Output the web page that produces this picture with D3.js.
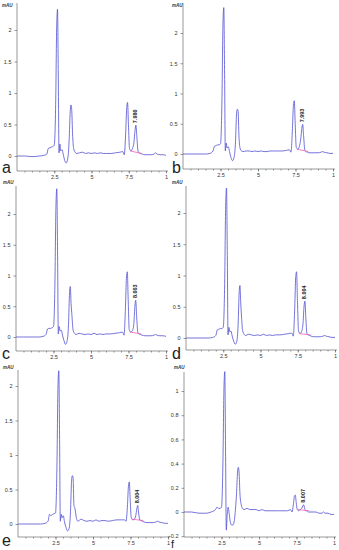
<!DOCTYPE html>
<html>
<head>
<meta charset="utf-8">
<script src="https://cdnjs.cloudflare.com/ajax/libs/d3/7.8.5/d3.min.js"></script>
<style>
  body { margin: 0; background: #fff; }
  svg { display: block; font-family: "Liberation Sans", Arial, sans-serif; }
  .axis path, .axis line { stroke: #555; stroke-width: 0.6; }
  .axis text { font-size: 5.5px; fill: #333; }
</style>
</head>
<body>
<div id="chart"></div>
<script>
// retention time (min), shared by all six runs
const times = [0,0.5,1,1.5,1.8,2.0,2.1,2.2,2.3,2.4,
  2.5,2.6,2.66,2.72,2.77,2.82,2.88,2.94,3.02,3.1,
  3.2,3.3,3.4,3.5,3.57,3.62,3.67,3.73,3.8,3.9,
  4.0,4.2,4.4,4.6,4.8,5.0,5.2,5.4,5.6,5.8,
  6.0,6.3,6.6,6.9,7.1,7.2,7.3,7.36,7.42,7.48,
  7.55,7.65,7.75,7.85,7.92,7.98,8.04,8.12,8.2,8.3,
  8.4,8.6,8.8,9.0,9.2,9.3,9.4,9.6,9.8,10];

// absorbance (mAU) per run
const runA = [0.00,0.00,-0.01,0.00,0.01,0.03,0.12,0.13,0.14,0.15,
  0.17,0.90,2.00,2.33,1.30,0.05,0.19,0.08,0.10,0.03,
  -0.07,-0.11,-0.05,0.25,0.70,0.81,0.74,0.35,0.12,0.06,
  0.04,0.05,0.06,0.04,0.05,0.04,0.05,0.04,0.05,0.04,
  0.04,0.04,0.05,0.06,0.07,0.02,0.40,0.75,0.85,0.50,
  0.12,0.08,0.12,0.22,0.40,0.49,0.32,0.08,0.05,0.04,
  0.03,0.02,0.02,0.02,0.03,0.05,0.03,0.02,0.02,0.01];
const runB = [0.00,0.00,0.00,0.00,0.01,0.05,0.13,0.14,0.15,0.15,
  0.17,0.95,2.10,2.42,1.40,0.05,0.18,0.10,0.12,0.04,
  -0.06,-0.11,-0.06,0.20,0.66,0.74,0.72,0.30,0.10,0.05,
  0.04,0.05,0.05,0.04,0.05,0.04,0.05,0.04,0.04,0.05,
  0.05,0.05,0.05,0.06,0.07,0.03,0.45,0.80,0.88,0.50,
  0.11,0.08,0.12,0.25,0.42,0.49,0.30,0.07,0.04,0.03,
  0.02,0.02,0.02,0.02,0.03,0.04,0.03,0.02,0.01,0.01];
const runC = [0.00,0.00,0.00,0.00,0.01,0.04,0.13,0.14,0.14,0.15,
  0.17,0.95,2.10,2.41,1.40,0.05,0.17,0.10,0.11,0.03,
  -0.06,-0.12,-0.07,0.20,0.72,0.82,0.55,0.35,0.12,0.06,
  0.04,0.06,0.05,0.04,0.05,0.04,0.06,0.04,0.05,0.04,
  0.05,0.05,0.06,0.07,0.08,0.03,0.50,0.95,1.06,0.60,
  0.12,0.08,0.10,0.20,0.48,0.60,0.35,0.08,0.05,0.04,
  0.03,0.02,0.02,0.02,0.03,0.04,0.03,0.02,0.02,0.01];
const runD = [0.00,0.00,0.00,0.00,0.01,0.04,0.13,0.14,0.15,0.15,
  0.17,0.95,2.10,2.40,1.40,0.05,0.17,0.10,0.11,0.03,
  -0.05,-0.10,-0.06,0.22,0.74,0.84,0.58,0.33,0.12,0.06,
  0.04,0.06,0.05,0.04,0.05,0.04,0.06,0.04,0.05,0.04,
  0.05,0.05,0.06,0.07,0.08,0.03,0.50,0.96,1.06,0.60,
  0.12,0.07,0.10,0.22,0.50,0.59,0.33,0.07,0.05,0.04,
  0.03,0.02,0.02,0.02,0.03,0.04,0.03,0.02,0.01,0.01];
const runE = [0.00,0.00,0.00,0.00,0.01,0.04,0.14,0.12,0.14,0.15,
  0.16,0.90,1.95,2.22,1.30,0.04,0.14,0.09,0.12,0.03,
  -0.05,-0.10,-0.07,0.18,0.62,0.70,0.68,0.27,0.22,0.08,
  0.04,0.07,0.05,0.04,0.05,0.04,0.06,0.04,0.05,0.05,
  0.04,0.05,0.06,0.06,0.06,0.04,0.28,0.54,0.61,0.35,
  0.09,0.06,0.07,0.12,0.22,0.27,0.16,0.06,0.05,0.04,
  0.03,0.02,0.02,0.02,0.03,0.04,0.03,0.02,0.01,0.01];
const runF = [0.00,0.00,-0.01,-0.01,0.00,0.01,0.02,0.04,0.03,0.03,
  0.04,0.45,1.00,1.16,0.50,-0.15,-0.02,0.04,-0.02,-0.09,
  -0.11,-0.10,-0.02,0.15,0.33,0.37,0.33,0.15,0.07,0.03,
  0.02,0.03,0.02,0.02,0.02,0.01,0.02,0.01,0.01,0.01,
  0.01,0.01,0.01,0.01,0.02,0.00,0.07,0.13,0.14,0.08,
  0.02,0.01,0.02,0.03,0.05,0.06,0.03,0.01,0.01,0.00,
  0.00,0.00,0.00,-0.01,-0.01,0.00,-0.01,-0.01,-0.02,-0.02];

const runs = [runA, runB, runC, runD, runE, runF];
const panelLetters = ["a", "b", "c", "d", "e", "f"];
const peakTimes = [7.98, 7.98, 7.98, 7.98, 7.98, 7.98];
const peakLabels = ["7.980", "7.993", "8.003", "8.004", "8.004", "8.007"];
// integration baseline under the labelled peak: [start time, start mAU, end time, end mAU]
const baselines = [[7.6,0.08,8.35,0.04],[7.6,0.08,8.35,0.04],[7.6,0.08,8.35,0.05],
                   [7.6,0.07,8.35,0.05],[7.6,0.07,8.35,0.05],[7.6,0.02,8.35,0.01]];

const xTicks = [2.5, 5, 7.5, 10];
const xTickLabels = ["2.5", "5", "7.5", "1"];
const yTicksMain = [0, 0.5, 1, 1.5, 2];
const yTicksLow = [-0.2, 0, 0.2, 0.4, 0.6, 0.8, 1];

// panel placement in the 339x550 figure
const layout = [
  {x0: 17,  x1: 166, y0: 156, yTop: 30,  vTop: 2, axTop: 3,   axBot: 171, lx: 2,   ly: 173, fs: 16, mx: 2,   my: 7},
  {x0: 183, x1: 333, y0: 154, yTop: 33,  vTop: 2, axTop: 3,   axBot: 169, lx: 172, ly: 173, fs: 16, mx: 172, my: 7},
  {x0: 16,  x1: 166, y0: 337, yTop: 214, vTop: 2, axTop: 186, axBot: 351, lx: 2,   ly: 359, fs: 16, mx: 3,   my: 184},
  {x0: 186, x1: 335, y0: 338, yTop: 213, vTop: 2, axTop: 186, axBot: 350, lx: 172, ly: 359, fs: 16, mx: 172, my: 184},
  {x0: 18,  x1: 168, y0: 524, yTop: 386, vTop: 2, axTop: 370, axBot: 537, lx: 2,   ly: 546, fs: 16, mx: 3,   my: 369},
  {x0: 184, x1: 334, y0: 512, yTop: 391, vTop: 1, axTop: 372, axBot: 537, lx: 171, ly: 548, fs: 11, mx: 174, my: 369}
];

const svg = d3.select("#chart").append("svg")
  .attr("width", 339)
  .attr("height", 550);

runs.forEach(function(vals, i) {
  const L = layout[i];
  const x = d3.scaleLinear().domain([0, 10]).range([L.x0, L.x1]);
  const y = d3.scaleLinear().domain([0, L.vTop]).range([L.y0, L.yTop]);
  const g = svg.append("g");

  // y axis line + ticks
  g.append("line")
    .attr("x1", L.x0).attr("x2", L.x0)
    .attr("y1", L.axTop).attr("y2", L.axBot)
    .attr("stroke", "#555").attr("stroke-width", 0.6);
  const yt = i == 5 ? yTicksLow : yTicksMain;
  g.append("g")
    .attr("class", "axis")
    .attr("transform", "translate(" + L.x0 + ",0)")
    .call(d3.axisLeft(y).tickValues(yt).tickSize(2.5).tickPadding(3)
      .tickFormat(d3.format("~g")))
    .select(".domain").remove();

  // x axis, major + minor ticks
  g.append("line")
    .attr("x1", L.x0).attr("x2", L.x1 + 2)
    .attr("y1", L.axBot).attr("y2", L.axBot)
    .attr("stroke", "#555").attr("stroke-width", 0.6);
  g.append("g")
    .attr("class", "axis")
    .attr("transform", "translate(0," + L.axBot + ")")
    .call(d3.axisBottom(x).tickValues(d3.range(0.5, 10.01, 0.5)).tickSize(1.5).tickFormat(""))
    .select(".domain").remove();
  g.append("g")
    .attr("class", "axis")
    .attr("transform", "translate(0," + L.axBot + ")")
    .call(d3.axisBottom(x).tickValues(xTicks).tickSize(2.5).tickPadding(1.5)
      .tickFormat((d, k) => xTickLabels[k]))
    .select(".domain").remove();

  // chromatogram trace
  const pts = times.map((t, k) => [t, vals[k]]);
  g.append("path")
    .datum(pts)
    .attr("fill", "none")
    .attr("stroke", "#5050d2")
    .attr("stroke-width", 0.8)
    .attr("stroke-linejoin", "round")
    .attr("d", d3.line()
      .x(d => x(d[0]))
      .y(d => y(d[1]))
      .curve(d3.curveMonotoneX));

  // integration baseline
  const b = baselines[i];
  g.append("line")
    .attr("x1", x(b[0])).attr("y1", y(b[1]))
    .attr("x2", x(b[2])).attr("y2", y(b[3]))
    .attr("stroke", "#f060b8")
    .attr("stroke-width", 0.8);

  // peak retention label
  const pk = times.indexOf(peakTimes[i]);
  const px = x(peakTimes[i]) + 1.5, py = y(vals[pk]) - 2;
  g.append("text")
    .attr("transform", "translate(" + px + "," + py + ") rotate(-90)")
    .attr("font-size", "5.5px")
    .attr("font-weight", "bold")
    .attr("fill", "#222")
    .text(peakLabels[i]);

  // unit label + panel letter
  g.append("text")
    .attr("x", L.mx).attr("y", L.my)
    .attr("font-size", "4.5px")
    .attr("font-style", "italic")
    .attr("font-weight", "bold")
    .attr("fill", "#333")
    .text("mAU");
  g.append("text")
    .attr("x", L.lx).attr("y", L.ly)
    .attr("font-size", L.fs + "px")
    .attr("fill", "#222")
    .text(panelLetters[i]);
});
</script>
</body>
</html>
